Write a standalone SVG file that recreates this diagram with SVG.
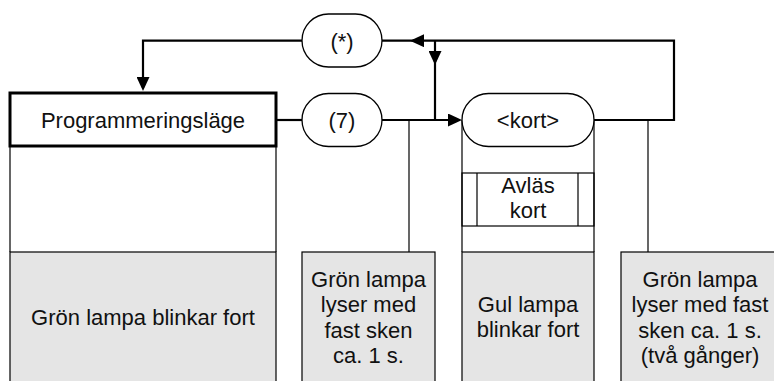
<svg xmlns="http://www.w3.org/2000/svg" width="774" height="381" viewBox="0 0 774 381">
  <style>
    text { font-family: "Liberation Sans", Arial, sans-serif; font-size: 22px; fill: #111; text-anchor: middle; }
    .thin { fill: none; stroke: #000; stroke-width: 1.2; }
    .thick { fill: none; stroke: #000; stroke-width: 2.2; }
    .pill { fill: #fff; stroke: #000; stroke-width: 1.3; }
    .grey { fill: #e5e5e5; stroke: #000; stroke-width: 1.2; }
  </style>
  <defs>
    <marker id="arrow" markerUnits="userSpaceOnUse" markerWidth="14" markerHeight="13" viewBox="0 0 14 13" refX="11" refY="6.5" orient="auto">
      <path d="M0,0 L14,6.5 L0,13 z" fill="#000"/>
    </marker>
  </defs>

  <g id="connectors">
    <!-- (*) to Programmeringsläge -->
    <path class="thick" d="M302,40.7 H143 V88" marker-end="url(#arrow)"/>
    <!-- Programmeringsläge to (7) -->
    <path class="thick" d="M276,120 H302"/>
    <!-- (7) to <kort> -->
    <path class="thick" d="M382,120 H459" marker-end="url(#arrow)"/>
    <!-- loop from <kort> back -->
    <path class="thick" d="M594,120 H674 V40.7 H413" marker-end="url(#arrow)"/>
    <path class="thick" d="M415,40.7 H382"/>
    <!-- branch down -->
    <path class="thick" d="M435,40.7 V62" marker-end="url(#arrow)"/>
    <path class="thick" d="M435,60 V120"/>
    <!-- thin drop lines -->
    <path class="thin" d="M409,120 V252"/>
    <path class="thin" d="M648,120 V252"/>
  </g>

  <g id="node-programmering">
    <path class="thin" d="M10,147 V252 M276,147 V252"/>
    <rect x="10" y="93" width="266" height="53" fill="#fff" stroke="#000" stroke-width="3"/>
    <text x="143" y="128">Programmeringsläge</text>
  </g>

  <g id="node-star">
    <rect class="pill" x="302" y="14" width="80" height="53" rx="26.5" ry="26.5"/>
    <text x="342" y="49">(*)</text>
  </g>

  <g id="node-7">
    <rect class="pill" x="302" y="93.5" width="80" height="53" rx="26.5" ry="26.5"/>
    <text x="342" y="128">(7)</text>
  </g>

  <g id="node-kort">
    <path class="thin" d="M462,120 V252 M594,120 V252"/>
    <rect class="pill" x="462" y="93.5" width="132" height="53" rx="26.5" ry="26.5"/>
    <text x="528" y="128">&lt;kort&gt;</text>
  </g>

  <g id="node-avlas">
    <rect class="thin" x="462" y="173" width="132" height="53"/>
    <path class="thin" d="M477,173 V226 M578,173 V226"/>
    <text x="528" y="193">Avläs</text>
    <text x="528" y="218">kort</text>
  </g>

  <g id="node-gron-blinkar">
    <rect class="grey" x="10" y="252" width="266" height="140"/>
    <text x="143" y="325">Grön lampa blinkar fort</text>
  </g>

  <g id="node-gron-fast">
    <rect class="grey" x="302" y="252" width="133" height="140"/>
    <text x="368.5" y="286.5">Grön lampa</text>
    <text x="368.5" y="312">lyser med</text>
    <text x="368.5" y="337.5">fast sken</text>
    <text x="368.5" y="363">ca. 1 s.</text>
  </g>

  <g id="node-gul">
    <rect class="grey" x="462" y="252" width="132" height="140"/>
    <text x="528" y="311.5">Gul lampa</text>
    <text x="528" y="337">blinkar fort</text>
  </g>

  <g id="node-gron-tva">
    <rect class="grey" x="621" y="252" width="160" height="140"/>
    <text x="700" y="286.5">Grön lampa</text>
    <text x="700" y="312">lyser med fast</text>
    <text x="700" y="337.5">sken ca. 1 s.</text>
    <text x="700" y="363">(två gånger)</text>
  </g>
</svg>
